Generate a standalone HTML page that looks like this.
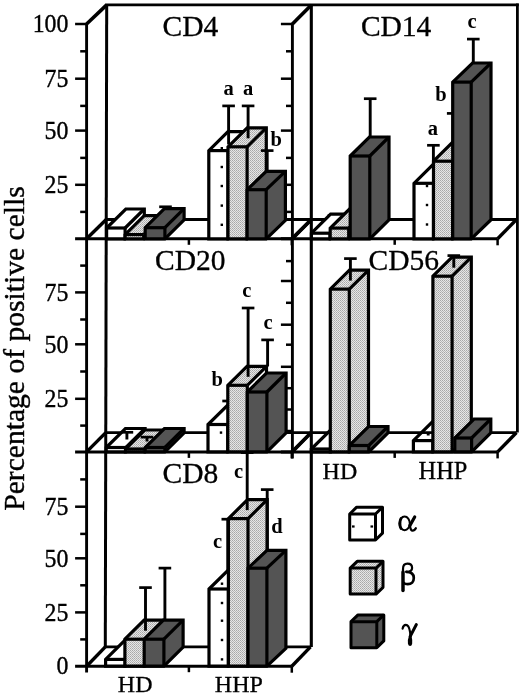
<!DOCTYPE html>
<html><head><meta charset="utf-8"><style>
html,body{margin:0;padding:0;background:#fff;}
svg{display:block;filter:grayscale(1);}
text{font-family:"Liberation Serif", serif;fill:#000;}
</style></head><body>
<svg width="520" height="694" viewBox="0 0 520 694">
<defs>
<pattern id="stip" width="2" height="2" patternUnits="userSpaceOnUse">
<rect width="2" height="2" fill="#e6e6e6"/>
<rect x="0" y="0" width="1" height="1" fill="#a8a8a8"/>
<rect x="1" y="1" width="1" height="1" fill="#b8b8b8"/>
</pattern>
</defs>
<rect width="520" height="694" fill="#fff"/>
<line x1="75.10" y1="238.80" x2="291.80" y2="238.80" stroke="#000" stroke-width="3.0" stroke-linecap="butt"/>
<line x1="106.23" y1="219.50" x2="311.43" y2="219.50" stroke="#000" stroke-width="2.9" stroke-linecap="butt"/>
<line x1="86.60" y1="238.80" x2="106.23" y2="219.50" stroke="#000" stroke-width="3.4" stroke-linecap="butt"/>
<line x1="291.80" y1="238.80" x2="311.43" y2="219.50" stroke="#000" stroke-width="3.4" stroke-linecap="butt"/>
<line x1="188.90" y1="238.80" x2="188.90" y2="244.80" stroke="#000" stroke-width="2.5" stroke-linecap="butt"/>
<line x1="291.80" y1="238.80" x2="291.80" y2="245.30" stroke="#000" stroke-width="2.5" stroke-linecap="butt"/>
<line x1="280.90" y1="238.80" x2="497.60" y2="238.80" stroke="#000" stroke-width="3.0" stroke-linecap="butt"/>
<line x1="311.30" y1="219.50" x2="516.50" y2="219.50" stroke="#000" stroke-width="2.9" stroke-linecap="butt"/>
<line x1="292.40" y1="238.80" x2="311.30" y2="219.50" stroke="#000" stroke-width="3.4" stroke-linecap="butt"/>
<line x1="497.60" y1="238.80" x2="516.50" y2="219.50" stroke="#000" stroke-width="3.4" stroke-linecap="butt"/>
<line x1="394.70" y1="238.80" x2="394.70" y2="244.80" stroke="#000" stroke-width="2.5" stroke-linecap="butt"/>
<line x1="497.60" y1="238.80" x2="497.60" y2="245.30" stroke="#000" stroke-width="2.5" stroke-linecap="butt"/>
<line x1="75.10" y1="451.90" x2="291.80" y2="451.90" stroke="#000" stroke-width="3.0" stroke-linecap="butt"/>
<line x1="105.77" y1="432.60" x2="310.97" y2="432.60" stroke="#000" stroke-width="2.9" stroke-linecap="butt"/>
<line x1="86.60" y1="451.90" x2="105.77" y2="432.60" stroke="#000" stroke-width="3.4" stroke-linecap="butt"/>
<line x1="291.80" y1="451.90" x2="310.97" y2="432.60" stroke="#000" stroke-width="3.4" stroke-linecap="butt"/>
<line x1="188.90" y1="451.90" x2="188.90" y2="457.90" stroke="#000" stroke-width="2.5" stroke-linecap="butt"/>
<line x1="291.80" y1="451.90" x2="291.80" y2="458.40" stroke="#000" stroke-width="2.5" stroke-linecap="butt"/>
<line x1="280.90" y1="451.90" x2="497.60" y2="451.90" stroke="#000" stroke-width="3.0" stroke-linecap="butt"/>
<line x1="311.30" y1="432.60" x2="516.50" y2="432.60" stroke="#000" stroke-width="2.9" stroke-linecap="butt"/>
<line x1="292.40" y1="451.90" x2="311.30" y2="432.60" stroke="#000" stroke-width="3.4" stroke-linecap="butt"/>
<line x1="497.60" y1="451.90" x2="516.50" y2="432.60" stroke="#000" stroke-width="3.4" stroke-linecap="butt"/>
<line x1="394.70" y1="451.90" x2="394.70" y2="457.90" stroke="#000" stroke-width="2.5" stroke-linecap="butt"/>
<line x1="497.60" y1="451.90" x2="497.60" y2="458.40" stroke="#000" stroke-width="2.5" stroke-linecap="butt"/>
<line x1="75.10" y1="666.20" x2="291.80" y2="666.20" stroke="#000" stroke-width="3.0" stroke-linecap="butt"/>
<line x1="105.30" y1="646.90" x2="310.50" y2="646.90" stroke="#000" stroke-width="2.9" stroke-linecap="butt"/>
<line x1="86.60" y1="666.20" x2="105.30" y2="646.90" stroke="#000" stroke-width="3.4" stroke-linecap="butt"/>
<line x1="291.80" y1="666.20" x2="310.50" y2="646.90" stroke="#000" stroke-width="3.4" stroke-linecap="butt"/>
<line x1="188.90" y1="666.20" x2="188.90" y2="672.20" stroke="#000" stroke-width="2.5" stroke-linecap="butt"/>
<line x1="291.80" y1="666.20" x2="291.80" y2="672.70" stroke="#000" stroke-width="2.5" stroke-linecap="butt"/>
<line x1="105.40" y1="4.90" x2="518.80" y2="4.90" stroke="#000" stroke-width="2.9" stroke-linecap="butt"/>
<line x1="86.60" y1="24.00" x2="106.70" y2="4.90" stroke="#000" stroke-width="3.6" stroke-linecap="butt"/>
<line x1="292.40" y1="24.00" x2="311.30" y2="4.90" stroke="#000" stroke-width="3.6" stroke-linecap="butt"/>
<line x1="86.60" y1="23.00" x2="86.60" y2="672.50" stroke="#000" stroke-width="2.9" stroke-linecap="butt"/>
<line x1="106.70" y1="4.90" x2="105.30" y2="646.90" stroke="#000" stroke-width="3.0" stroke-linecap="butt"/>
<line x1="292.40" y1="23.00" x2="292.40" y2="458.40" stroke="#000" stroke-width="2.9" stroke-linecap="butt"/>
<line x1="311.30" y1="4.90" x2="311.30" y2="646.90" stroke="#000" stroke-width="3.1" stroke-linecap="butt"/>
<line x1="517.40" y1="3.50" x2="517.40" y2="432.60" stroke="#000" stroke-width="2.8" stroke-linecap="butt"/>
<line x1="75.10" y1="24.00" x2="86.60" y2="24.00" stroke="#000" stroke-width="2.5" stroke-linecap="butt"/>
<line x1="80.20" y1="51.30" x2="86.60" y2="51.30" stroke="#000" stroke-width="2.5" stroke-linecap="butt"/>
<line x1="75.10" y1="78.70" x2="86.60" y2="78.70" stroke="#000" stroke-width="2.5" stroke-linecap="butt"/>
<line x1="80.20" y1="105.90" x2="86.60" y2="105.90" stroke="#000" stroke-width="2.5" stroke-linecap="butt"/>
<line x1="75.10" y1="130.60" x2="86.60" y2="130.60" stroke="#000" stroke-width="2.5" stroke-linecap="butt"/>
<line x1="80.20" y1="157.90" x2="86.60" y2="157.90" stroke="#000" stroke-width="2.5" stroke-linecap="butt"/>
<line x1="75.10" y1="184.80" x2="86.60" y2="184.80" stroke="#000" stroke-width="2.5" stroke-linecap="butt"/>
<line x1="80.20" y1="211.90" x2="86.60" y2="211.90" stroke="#000" stroke-width="2.5" stroke-linecap="butt"/>
<line x1="280.90" y1="24.00" x2="292.40" y2="24.00" stroke="#000" stroke-width="2.5" stroke-linecap="butt"/>
<line x1="286.00" y1="51.30" x2="292.40" y2="51.30" stroke="#000" stroke-width="2.5" stroke-linecap="butt"/>
<line x1="280.90" y1="78.70" x2="292.40" y2="78.70" stroke="#000" stroke-width="2.5" stroke-linecap="butt"/>
<line x1="286.00" y1="105.90" x2="292.40" y2="105.90" stroke="#000" stroke-width="2.5" stroke-linecap="butt"/>
<line x1="280.90" y1="130.60" x2="292.40" y2="130.60" stroke="#000" stroke-width="2.5" stroke-linecap="butt"/>
<line x1="286.00" y1="157.90" x2="292.40" y2="157.90" stroke="#000" stroke-width="2.5" stroke-linecap="butt"/>
<line x1="280.90" y1="184.80" x2="292.40" y2="184.80" stroke="#000" stroke-width="2.5" stroke-linecap="butt"/>
<line x1="286.00" y1="211.90" x2="292.40" y2="211.90" stroke="#000" stroke-width="2.5" stroke-linecap="butt"/>
<line x1="80.20" y1="265.60" x2="86.60" y2="265.60" stroke="#000" stroke-width="2.5" stroke-linecap="butt"/>
<line x1="75.10" y1="292.40" x2="86.60" y2="292.40" stroke="#000" stroke-width="2.5" stroke-linecap="butt"/>
<line x1="80.20" y1="319.50" x2="86.60" y2="319.50" stroke="#000" stroke-width="2.5" stroke-linecap="butt"/>
<line x1="75.10" y1="344.30" x2="86.60" y2="344.30" stroke="#000" stroke-width="2.5" stroke-linecap="butt"/>
<line x1="80.20" y1="371.50" x2="86.60" y2="371.50" stroke="#000" stroke-width="2.5" stroke-linecap="butt"/>
<line x1="75.10" y1="398.80" x2="86.60" y2="398.80" stroke="#000" stroke-width="2.5" stroke-linecap="butt"/>
<line x1="80.20" y1="425.60" x2="86.60" y2="425.60" stroke="#000" stroke-width="2.5" stroke-linecap="butt"/>
<line x1="80.20" y1="479.40" x2="86.60" y2="479.40" stroke="#000" stroke-width="2.5" stroke-linecap="butt"/>
<line x1="75.10" y1="506.70" x2="86.60" y2="506.70" stroke="#000" stroke-width="2.5" stroke-linecap="butt"/>
<line x1="80.20" y1="533.90" x2="86.60" y2="533.90" stroke="#000" stroke-width="2.5" stroke-linecap="butt"/>
<line x1="75.10" y1="558.30" x2="86.60" y2="558.30" stroke="#000" stroke-width="2.5" stroke-linecap="butt"/>
<line x1="80.20" y1="585.30" x2="86.60" y2="585.30" stroke="#000" stroke-width="2.5" stroke-linecap="butt"/>
<line x1="75.10" y1="612.40" x2="86.60" y2="612.40" stroke="#000" stroke-width="2.5" stroke-linecap="butt"/>
<line x1="80.20" y1="639.40" x2="86.60" y2="639.40" stroke="#000" stroke-width="2.5" stroke-linecap="butt"/>
<line x1="286.00" y1="261.10" x2="292.40" y2="261.10" stroke="#000" stroke-width="2.5" stroke-linecap="butt"/>
<line x1="280.90" y1="281.00" x2="292.40" y2="281.00" stroke="#000" stroke-width="2.5" stroke-linecap="butt"/>
<line x1="286.00" y1="302.80" x2="292.40" y2="302.80" stroke="#000" stroke-width="2.5" stroke-linecap="butt"/>
<line x1="280.90" y1="324.70" x2="292.40" y2="324.70" stroke="#000" stroke-width="2.5" stroke-linecap="butt"/>
<line x1="286.00" y1="344.70" x2="292.40" y2="344.70" stroke="#000" stroke-width="2.5" stroke-linecap="butt"/>
<line x1="280.90" y1="366.80" x2="292.40" y2="366.80" stroke="#000" stroke-width="2.5" stroke-linecap="butt"/>
<line x1="286.00" y1="388.20" x2="292.40" y2="388.20" stroke="#000" stroke-width="2.5" stroke-linecap="butt"/>
<line x1="280.90" y1="409.50" x2="292.40" y2="409.50" stroke="#000" stroke-width="2.5" stroke-linecap="butt"/>
<line x1="286.00" y1="431.00" x2="292.40" y2="431.00" stroke="#000" stroke-width="2.5" stroke-linecap="butt"/>
<line x1="125.80" y1="214.40" x2="125.80" y2="209.50" stroke="#000" stroke-width="2.9" stroke-linecap="butt"/>
<line x1="119.50" y1="214.40" x2="132.10" y2="214.40" stroke="#000" stroke-width="2.7" stroke-linecap="butt"/>
<polygon points="125.10,228.00 144.30,209.00 144.30,219.80 125.10,238.80" fill="#fff"/>
<polygon points="106.60,228.00 125.80,209.00 144.30,209.00 125.10,228.00" fill="#fff"/>
<polygon points="106.60,228.00 125.10,228.00 125.10,238.80 106.60,238.80" fill="#fff"/>
<polygon points="106.60,238.80 106.60,228.00 125.80,209.00 144.30,209.00 144.30,219.80 125.10,238.80" fill="none" stroke="#000" stroke-width="3.2" stroke-linejoin="miter"/>
<line x1="106.60" y1="228.00" x2="125.10" y2="228.00" stroke="#000" stroke-width="3.2" stroke-linecap="butt"/>
<line x1="125.10" y1="228.00" x2="125.10" y2="238.80" stroke="#000" stroke-width="3.2" stroke-linecap="butt"/>
<line x1="125.10" y1="228.00" x2="144.30" y2="209.00" stroke="#000" stroke-width="3.2" stroke-linecap="butt"/>
<polygon points="143.70,234.60 162.90,215.60 162.90,219.80 143.70,238.80" fill="url(#stip)"/>
<polygon points="125.10,234.60 144.30,215.60 162.90,215.60 143.70,234.60" fill="url(#stip)"/>
<polygon points="125.10,234.60 143.70,234.60 143.70,238.80 125.10,238.80" fill="url(#stip)"/>
<polygon points="125.10,238.80 125.10,234.60 144.30,215.60 162.90,215.60 162.90,219.80 143.70,238.80" fill="none" stroke="#000" stroke-width="3.2" stroke-linejoin="miter"/>
<line x1="125.10" y1="234.60" x2="143.70" y2="234.60" stroke="#000" stroke-width="3.2" stroke-linecap="butt"/>
<line x1="143.70" y1="234.60" x2="143.70" y2="238.80" stroke="#000" stroke-width="3.2" stroke-linecap="butt"/>
<line x1="143.70" y1="234.60" x2="162.90" y2="215.60" stroke="#000" stroke-width="3.2" stroke-linecap="butt"/>
<line x1="165.50" y1="206.80" x2="165.50" y2="209.20" stroke="#000" stroke-width="2.9" stroke-linecap="butt"/>
<line x1="159.20" y1="206.80" x2="171.80" y2="206.80" stroke="#000" stroke-width="2.7" stroke-linecap="butt"/>
<polygon points="164.90,227.70 184.10,208.70 184.10,219.80 164.90,238.80" fill="#545454"/>
<polygon points="145.20,227.70 164.40,208.70 184.10,208.70 164.90,227.70" fill="#545454"/>
<polygon points="145.20,227.70 164.90,227.70 164.90,238.80 145.20,238.80" fill="#545454"/>
<polygon points="145.20,238.80 145.20,227.70 164.40,208.70 184.10,208.70 184.10,219.80 164.90,238.80" fill="none" stroke="#000" stroke-width="3.2" stroke-linejoin="miter"/>
<line x1="145.20" y1="227.70" x2="164.90" y2="227.70" stroke="#000" stroke-width="3.2" stroke-linecap="butt"/>
<line x1="164.90" y1="227.70" x2="164.90" y2="238.80" stroke="#000" stroke-width="3.2" stroke-linecap="butt"/>
<line x1="164.90" y1="227.70" x2="184.10" y2="208.70" stroke="#000" stroke-width="3.2" stroke-linecap="butt"/>
<polygon points="228.00,150.60 247.20,131.60 247.20,219.80 228.00,238.80" fill="#fff"/>
<polygon points="208.80,150.60 228.00,131.60 247.20,131.60 228.00,150.60" fill="#fff"/>
<polygon points="208.80,150.60 228.00,150.60 228.00,238.80 208.80,238.80" fill="#fff"/>
<polygon points="208.80,238.80 208.80,150.60 228.00,131.60 247.20,131.60 247.20,219.80 228.00,238.80" fill="none" stroke="#000" stroke-width="3.2" stroke-linejoin="miter"/>
<line x1="208.80" y1="150.60" x2="228.00" y2="150.60" stroke="#000" stroke-width="3.2" stroke-linecap="butt"/>
<line x1="228.00" y1="150.60" x2="228.00" y2="238.80" stroke="#000" stroke-width="3.2" stroke-linecap="butt"/>
<line x1="228.00" y1="150.60" x2="247.20" y2="131.60" stroke="#000" stroke-width="3.2" stroke-linecap="butt"/>
<rect x="220.60" y="147.00" width="2.4" height="2.4" fill="#000"/>
<rect x="220.60" y="165.80" width="2.4" height="2.4" fill="#000"/>
<rect x="220.60" y="184.80" width="2.4" height="2.4" fill="#000"/>
<rect x="220.60" y="204.40" width="2.4" height="2.4" fill="#000"/>
<rect x="220.60" y="223.60" width="2.4" height="2.4" fill="#000"/>
<line x1="228.60" y1="105.90" x2="228.60" y2="144.50" stroke="#000" stroke-width="2.9" stroke-linecap="butt"/>
<line x1="222.30" y1="105.90" x2="234.90" y2="105.90" stroke="#000" stroke-width="2.7" stroke-linecap="butt"/>
<polygon points="247.10,146.80 266.30,127.80 266.30,219.80 247.10,238.80" fill="url(#stip)"/>
<polygon points="228.00,146.80 247.20,127.80 266.30,127.80 247.10,146.80" fill="url(#stip)"/>
<polygon points="228.00,146.80 247.10,146.80 247.10,238.80 228.00,238.80" fill="url(#stip)"/>
<polygon points="228.00,238.80 228.00,146.80 247.20,127.80 266.30,127.80 266.30,219.80 247.10,238.80" fill="none" stroke="#000" stroke-width="3.2" stroke-linejoin="miter"/>
<line x1="228.00" y1="146.80" x2="247.10" y2="146.80" stroke="#000" stroke-width="3.2" stroke-linecap="butt"/>
<line x1="247.10" y1="146.80" x2="247.10" y2="238.80" stroke="#000" stroke-width="3.2" stroke-linecap="butt"/>
<line x1="247.10" y1="146.80" x2="266.30" y2="127.80" stroke="#000" stroke-width="3.2" stroke-linecap="butt"/>
<line x1="248.10" y1="105.90" x2="248.10" y2="138.30" stroke="#000" stroke-width="2.9" stroke-linecap="butt"/>
<line x1="241.80" y1="105.90" x2="254.40" y2="105.90" stroke="#000" stroke-width="2.7" stroke-linecap="butt"/>
<line x1="267.20" y1="150.60" x2="267.20" y2="171.80" stroke="#000" stroke-width="2.9" stroke-linecap="butt"/>
<line x1="260.90" y1="150.60" x2="273.50" y2="150.60" stroke="#000" stroke-width="2.7" stroke-linecap="butt"/>
<polygon points="266.20,189.70 285.40,171.30 285.40,220.40 266.20,238.80" fill="#545454"/>
<polygon points="247.10,189.70 266.30,171.30 285.40,171.30 266.20,189.70" fill="#545454"/>
<polygon points="247.10,189.70 266.20,189.70 266.20,238.80 247.10,238.80" fill="#545454"/>
<polygon points="247.10,238.80 247.10,189.70 266.30,171.30 285.40,171.30 285.40,220.40 266.20,238.80" fill="none" stroke="#000" stroke-width="3.2" stroke-linejoin="miter"/>
<line x1="247.10" y1="189.70" x2="266.20" y2="189.70" stroke="#000" stroke-width="3.2" stroke-linecap="butt"/>
<line x1="266.20" y1="189.70" x2="266.20" y2="238.80" stroke="#000" stroke-width="3.2" stroke-linecap="butt"/>
<line x1="266.20" y1="189.70" x2="285.40" y2="171.30" stroke="#000" stroke-width="3.2" stroke-linecap="butt"/>
<line x1="334.00" y1="215.50" x2="334.00" y2="214.70" stroke="#000" stroke-width="2.9" stroke-linecap="butt"/>
<line x1="327.70" y1="215.50" x2="340.30" y2="215.50" stroke="#000" stroke-width="2.7" stroke-linecap="butt"/>
<polygon points="330.00,233.20 349.20,214.20 349.20,219.80 330.00,238.80" fill="#fff"/>
<polygon points="311.40,233.20 330.60,214.20 349.20,214.20 330.00,233.20" fill="#fff"/>
<polygon points="311.40,233.20 330.00,233.20 330.00,238.80 311.40,238.80" fill="#fff"/>
<polygon points="311.40,238.80 311.40,233.20 330.60,214.20 349.20,214.20 349.20,219.80 330.00,238.80" fill="none" stroke="#000" stroke-width="3.2" stroke-linejoin="miter"/>
<line x1="311.40" y1="233.20" x2="330.00" y2="233.20" stroke="#000" stroke-width="3.2" stroke-linecap="butt"/>
<line x1="330.00" y1="233.20" x2="330.00" y2="238.80" stroke="#000" stroke-width="3.2" stroke-linecap="butt"/>
<line x1="330.00" y1="233.20" x2="349.20" y2="214.20" stroke="#000" stroke-width="3.2" stroke-linecap="butt"/>
<polygon points="348.70,228.10 367.90,209.10 367.90,219.80 348.70,238.80" fill="url(#stip)"/>
<polygon points="330.20,228.10 349.40,209.10 367.90,209.10 348.70,228.10" fill="url(#stip)"/>
<polygon points="330.20,228.10 348.70,228.10 348.70,238.80 330.20,238.80" fill="url(#stip)"/>
<polygon points="330.20,238.80 330.20,228.10 349.40,209.10 367.90,209.10 367.90,219.80 348.70,238.80" fill="none" stroke="#000" stroke-width="3.2" stroke-linejoin="miter"/>
<line x1="330.20" y1="228.10" x2="348.70" y2="228.10" stroke="#000" stroke-width="3.2" stroke-linecap="butt"/>
<line x1="348.70" y1="228.10" x2="348.70" y2="238.80" stroke="#000" stroke-width="3.2" stroke-linecap="butt"/>
<line x1="348.70" y1="228.10" x2="367.90" y2="209.10" stroke="#000" stroke-width="3.2" stroke-linecap="butt"/>
<line x1="370.20" y1="98.70" x2="370.20" y2="137.50" stroke="#000" stroke-width="2.9" stroke-linecap="butt"/>
<line x1="363.90" y1="98.70" x2="376.50" y2="98.70" stroke="#000" stroke-width="2.7" stroke-linecap="butt"/>
<polygon points="369.80,156.00 389.00,137.00 389.00,219.80 369.80,238.80" fill="#545454"/>
<polygon points="350.20,156.00 369.40,137.00 389.00,137.00 369.80,156.00" fill="#545454"/>
<polygon points="350.20,156.00 369.80,156.00 369.80,238.80 350.20,238.80" fill="#545454"/>
<polygon points="350.20,238.80 350.20,156.00 369.40,137.00 389.00,137.00 389.00,219.80 369.80,238.80" fill="none" stroke="#000" stroke-width="3.2" stroke-linejoin="miter"/>
<line x1="350.20" y1="156.00" x2="369.80" y2="156.00" stroke="#000" stroke-width="3.2" stroke-linecap="butt"/>
<line x1="369.80" y1="156.00" x2="369.80" y2="238.80" stroke="#000" stroke-width="3.2" stroke-linecap="butt"/>
<line x1="369.80" y1="156.00" x2="389.00" y2="137.00" stroke="#000" stroke-width="3.2" stroke-linecap="butt"/>
<line x1="433.40" y1="145.30" x2="433.40" y2="164.80" stroke="#000" stroke-width="2.9" stroke-linecap="butt"/>
<line x1="427.10" y1="145.30" x2="439.70" y2="145.30" stroke="#000" stroke-width="2.7" stroke-linecap="butt"/>
<polygon points="433.50,183.30 452.70,164.30 452.70,219.80 433.50,238.80" fill="#fff"/>
<polygon points="414.00,183.30 433.20,164.30 452.70,164.30 433.50,183.30" fill="#fff"/>
<polygon points="414.00,183.30 433.50,183.30 433.50,238.80 414.00,238.80" fill="#fff"/>
<polygon points="414.00,238.80 414.00,183.30 433.20,164.30 452.70,164.30 452.70,219.80 433.50,238.80" fill="none" stroke="#000" stroke-width="3.2" stroke-linejoin="miter"/>
<line x1="414.00" y1="183.30" x2="433.50" y2="183.30" stroke="#000" stroke-width="3.2" stroke-linecap="butt"/>
<line x1="433.50" y1="183.30" x2="433.50" y2="238.80" stroke="#000" stroke-width="3.2" stroke-linecap="butt"/>
<line x1="433.50" y1="183.30" x2="452.70" y2="164.30" stroke="#000" stroke-width="3.2" stroke-linecap="butt"/>
<rect x="425.80" y="184.80" width="2.4" height="2.4" fill="#000"/>
<rect x="425.80" y="203.80" width="2.4" height="2.4" fill="#000"/>
<rect x="425.80" y="223.30" width="2.4" height="2.4" fill="#000"/>
<polygon points="452.70,161.20 471.90,142.20 471.90,219.80 452.70,238.80" fill="url(#stip)"/>
<polygon points="433.50,161.20 452.70,142.20 471.90,142.20 452.70,161.20" fill="url(#stip)"/>
<polygon points="433.50,161.20 452.70,161.20 452.70,238.80 433.50,238.80" fill="url(#stip)"/>
<polygon points="433.50,238.80 433.50,161.20 452.70,142.20 471.90,142.20 471.90,219.80 452.70,238.80" fill="none" stroke="#000" stroke-width="3.2" stroke-linejoin="miter"/>
<line x1="433.50" y1="161.20" x2="452.70" y2="161.20" stroke="#000" stroke-width="3.2" stroke-linecap="butt"/>
<line x1="452.70" y1="161.20" x2="452.70" y2="238.80" stroke="#000" stroke-width="3.2" stroke-linecap="butt"/>
<line x1="452.70" y1="161.20" x2="471.90" y2="142.20" stroke="#000" stroke-width="3.2" stroke-linecap="butt"/>
<line x1="453.20" y1="113.40" x2="453.20" y2="152.70" stroke="#000" stroke-width="2.9" stroke-linecap="butt"/>
<line x1="446.90" y1="113.40" x2="459.50" y2="113.40" stroke="#000" stroke-width="2.7" stroke-linecap="butt"/>
<line x1="473.30" y1="39.10" x2="473.30" y2="63.50" stroke="#000" stroke-width="2.9" stroke-linecap="butt"/>
<line x1="467.00" y1="39.10" x2="479.60" y2="39.10" stroke="#000" stroke-width="2.7" stroke-linecap="butt"/>
<polygon points="471.20,82.10 491.00,63.00 491.00,219.70 471.20,238.80" fill="#545454"/>
<polygon points="452.70,82.10 472.50,63.00 491.00,63.00 471.20,82.10" fill="#545454"/>
<polygon points="452.70,82.10 471.20,82.10 471.20,238.80 452.70,238.80" fill="#545454"/>
<polygon points="452.70,238.80 452.70,82.10 472.50,63.00 491.00,63.00 491.00,219.70 471.20,238.80" fill="none" stroke="#000" stroke-width="3.2" stroke-linejoin="miter"/>
<line x1="452.70" y1="82.10" x2="471.20" y2="82.10" stroke="#000" stroke-width="3.2" stroke-linecap="butt"/>
<line x1="471.20" y1="82.10" x2="471.20" y2="238.80" stroke="#000" stroke-width="3.2" stroke-linecap="butt"/>
<line x1="471.20" y1="82.10" x2="491.00" y2="63.00" stroke="#000" stroke-width="3.2" stroke-linecap="butt"/>
<polygon points="125.90,447.50 145.10,428.50 145.10,432.90 125.90,451.90" fill="#fff"/>
<polygon points="106.20,447.50 125.40,428.50 145.10,428.50 125.90,447.50" fill="#fff"/>
<polygon points="106.20,447.50 125.90,447.50 125.90,451.90 106.20,451.90" fill="#fff"/>
<polygon points="106.20,451.90 106.20,447.50 125.40,428.50 145.10,428.50 145.10,432.90 125.90,451.90" fill="none" stroke="#000" stroke-width="3.2" stroke-linejoin="miter"/>
<line x1="106.20" y1="447.50" x2="125.90" y2="447.50" stroke="#000" stroke-width="3.2" stroke-linecap="butt"/>
<line x1="125.90" y1="447.50" x2="125.90" y2="451.90" stroke="#000" stroke-width="3.2" stroke-linecap="butt"/>
<line x1="125.90" y1="447.50" x2="145.10" y2="428.50" stroke="#000" stroke-width="3.2" stroke-linecap="butt"/>
<line x1="126.90" y1="432.30" x2="126.90" y2="439.50" stroke="#000" stroke-width="2.9" stroke-linecap="butt"/>
<line x1="120.60" y1="432.30" x2="133.20" y2="432.30" stroke="#000" stroke-width="2.7" stroke-linecap="butt"/>
<polygon points="145.20,449.00 164.40,430.00 164.40,432.90 145.20,451.90" fill="url(#stip)"/>
<polygon points="125.50,449.00 144.70,430.00 164.40,430.00 145.20,449.00" fill="url(#stip)"/>
<polygon points="125.50,449.00 145.20,449.00 145.20,451.90 125.50,451.90" fill="url(#stip)"/>
<polygon points="125.50,451.90 125.50,449.00 144.70,430.00 164.40,430.00 164.40,432.90 145.20,451.90" fill="none" stroke="#000" stroke-width="3.2" stroke-linejoin="miter"/>
<line x1="125.50" y1="449.00" x2="145.20" y2="449.00" stroke="#000" stroke-width="3.2" stroke-linecap="butt"/>
<line x1="145.20" y1="449.00" x2="145.20" y2="451.90" stroke="#000" stroke-width="3.2" stroke-linecap="butt"/>
<line x1="145.20" y1="449.00" x2="164.40" y2="430.00" stroke="#000" stroke-width="3.2" stroke-linecap="butt"/>
<line x1="147.00" y1="437.10" x2="147.00" y2="441.50" stroke="#000" stroke-width="2.9" stroke-linecap="butt"/>
<line x1="140.70" y1="437.10" x2="153.30" y2="437.10" stroke="#000" stroke-width="2.7" stroke-linecap="butt"/>
<line x1="166.00" y1="430.50" x2="166.00" y2="429.00" stroke="#000" stroke-width="2.9" stroke-linecap="butt"/>
<line x1="159.70" y1="430.50" x2="172.30" y2="430.50" stroke="#000" stroke-width="2.7" stroke-linecap="butt"/>
<polygon points="164.90,447.50 184.10,428.50 184.10,432.90 164.90,451.90" fill="#545454"/>
<polygon points="145.20,447.50 164.40,428.50 184.10,428.50 164.90,447.50" fill="#545454"/>
<polygon points="145.20,447.50 164.90,447.50 164.90,451.90 145.20,451.90" fill="#545454"/>
<polygon points="145.20,451.90 145.20,447.50 164.40,428.50 184.10,428.50 184.10,432.90 164.90,451.90" fill="none" stroke="#000" stroke-width="3.2" stroke-linejoin="miter"/>
<line x1="145.20" y1="447.50" x2="164.90" y2="447.50" stroke="#000" stroke-width="3.2" stroke-linecap="butt"/>
<line x1="164.90" y1="447.50" x2="164.90" y2="451.90" stroke="#000" stroke-width="3.2" stroke-linecap="butt"/>
<line x1="164.90" y1="447.50" x2="184.10" y2="428.50" stroke="#000" stroke-width="3.2" stroke-linecap="butt"/>
<line x1="228.60" y1="401.00" x2="228.60" y2="406.00" stroke="#000" stroke-width="2.9" stroke-linecap="butt"/>
<line x1="222.30" y1="401.00" x2="234.90" y2="401.00" stroke="#000" stroke-width="2.7" stroke-linecap="butt"/>
<polygon points="227.80,424.50 247.00,405.50 247.00,432.90 227.80,451.90" fill="#fff"/>
<polygon points="208.00,424.50 227.20,405.50 247.00,405.50 227.80,424.50" fill="#fff"/>
<polygon points="208.00,424.50 227.80,424.50 227.80,451.90 208.00,451.90" fill="#fff"/>
<polygon points="208.00,451.90 208.00,424.50 227.20,405.50 247.00,405.50 247.00,432.90 227.80,451.90" fill="none" stroke="#000" stroke-width="3.2" stroke-linejoin="miter"/>
<line x1="208.00" y1="424.50" x2="227.80" y2="424.50" stroke="#000" stroke-width="3.2" stroke-linecap="butt"/>
<line x1="227.80" y1="424.50" x2="227.80" y2="451.90" stroke="#000" stroke-width="3.2" stroke-linecap="butt"/>
<line x1="227.80" y1="424.50" x2="247.00" y2="405.50" stroke="#000" stroke-width="3.2" stroke-linecap="butt"/>
<rect x="219.80" y="431.40" width="2.4" height="2.4" fill="#000"/>
<polygon points="247.30,385.30 266.50,366.30 266.50,432.90 247.30,451.90" fill="#fff"/>
<polygon points="227.80,385.30 247.00,366.30 266.50,366.30 247.30,385.30" fill="url(#stip)"/>
<polygon points="227.80,385.30 247.30,385.30 247.30,451.90 227.80,451.90" fill="url(#stip)"/>
<polygon points="227.80,451.90 227.80,385.30 247.00,366.30 266.50,366.30 266.50,432.90 247.30,451.90" fill="none" stroke="#000" stroke-width="3.2" stroke-linejoin="miter"/>
<line x1="227.80" y1="385.30" x2="247.30" y2="385.30" stroke="#000" stroke-width="3.2" stroke-linecap="butt"/>
<line x1="247.30" y1="385.30" x2="247.30" y2="451.90" stroke="#000" stroke-width="3.2" stroke-linecap="butt"/>
<line x1="247.30" y1="385.30" x2="266.50" y2="366.30" stroke="#000" stroke-width="3.2" stroke-linecap="butt"/>
<line x1="248.10" y1="308.00" x2="248.10" y2="376.80" stroke="#000" stroke-width="2.9" stroke-linecap="butt"/>
<line x1="241.80" y1="308.00" x2="254.40" y2="308.00" stroke="#000" stroke-width="2.7" stroke-linecap="butt"/>
<polygon points="266.90,392.00 286.10,373.00 286.10,432.90 266.90,451.90" fill="#545454"/>
<polygon points="247.30,392.00 266.50,373.00 286.10,373.00 266.90,392.00" fill="#545454"/>
<polygon points="247.30,392.00 266.90,392.00 266.90,451.90 247.30,451.90" fill="#545454"/>
<polygon points="247.30,451.90 247.30,392.00 266.50,373.00 286.10,373.00 286.10,432.90 266.90,451.90" fill="none" stroke="#000" stroke-width="3.2" stroke-linejoin="miter"/>
<line x1="247.30" y1="392.00" x2="266.90" y2="392.00" stroke="#000" stroke-width="3.2" stroke-linecap="butt"/>
<line x1="266.90" y1="392.00" x2="266.90" y2="451.90" stroke="#000" stroke-width="3.2" stroke-linecap="butt"/>
<line x1="266.90" y1="392.00" x2="286.10" y2="373.00" stroke="#000" stroke-width="3.2" stroke-linecap="butt"/>
<line x1="267.60" y1="339.90" x2="267.60" y2="366.50" stroke="#000" stroke-width="2.9" stroke-linecap="butt"/>
<line x1="261.30" y1="339.90" x2="273.90" y2="339.90" stroke="#000" stroke-width="2.7" stroke-linecap="butt"/>
<polygon points="331.00,449.00 350.20,430.00 350.20,432.90 331.00,451.90" fill="#fff"/>
<polygon points="311.30,449.00 330.50,430.00 350.20,430.00 331.00,449.00" fill="#fff"/>
<polygon points="311.30,449.00 331.00,449.00 331.00,451.90 311.30,451.90" fill="#fff"/>
<polygon points="311.30,451.90 311.30,449.00 330.50,430.00 350.20,430.00 350.20,432.90 331.00,451.90" fill="none" stroke="#000" stroke-width="3.2" stroke-linejoin="miter"/>
<line x1="311.30" y1="449.00" x2="331.00" y2="449.00" stroke="#000" stroke-width="3.2" stroke-linecap="butt"/>
<line x1="331.00" y1="449.00" x2="331.00" y2="451.90" stroke="#000" stroke-width="3.2" stroke-linecap="butt"/>
<line x1="331.00" y1="449.00" x2="350.20" y2="430.00" stroke="#000" stroke-width="3.2" stroke-linecap="butt"/>
<polygon points="349.30,289.10 368.50,270.10 368.50,432.90 349.30,451.90" fill="url(#stip)"/>
<polygon points="330.30,289.10 349.50,270.10 368.50,270.10 349.30,289.10" fill="url(#stip)"/>
<polygon points="330.30,289.10 349.30,289.10 349.30,451.90 330.30,451.90" fill="url(#stip)"/>
<polygon points="330.30,451.90 330.30,289.10 349.50,270.10 368.50,270.10 368.50,432.90 349.30,451.90" fill="none" stroke="#000" stroke-width="3.2" stroke-linejoin="miter"/>
<line x1="330.30" y1="289.10" x2="349.30" y2="289.10" stroke="#000" stroke-width="3.2" stroke-linecap="butt"/>
<line x1="349.30" y1="289.10" x2="349.30" y2="451.90" stroke="#000" stroke-width="3.2" stroke-linecap="butt"/>
<line x1="349.30" y1="289.10" x2="368.50" y2="270.10" stroke="#000" stroke-width="3.2" stroke-linecap="butt"/>
<line x1="350.40" y1="258.60" x2="350.40" y2="280.60" stroke="#000" stroke-width="2.9" stroke-linecap="butt"/>
<line x1="344.10" y1="258.60" x2="356.70" y2="258.60" stroke="#000" stroke-width="2.7" stroke-linecap="butt"/>
<polygon points="368.80,445.50 388.00,426.50 388.00,432.90 368.80,451.90" fill="#545454"/>
<polygon points="349.30,445.50 368.50,426.50 388.00,426.50 368.80,445.50" fill="#545454"/>
<polygon points="349.30,445.50 368.80,445.50 368.80,451.90 349.30,451.90" fill="#545454"/>
<polygon points="349.30,451.90 349.30,445.50 368.50,426.50 388.00,426.50 388.00,432.90 368.80,451.90" fill="none" stroke="#000" stroke-width="3.2" stroke-linejoin="miter"/>
<line x1="349.30" y1="445.50" x2="368.80" y2="445.50" stroke="#000" stroke-width="3.2" stroke-linecap="butt"/>
<line x1="368.80" y1="445.50" x2="368.80" y2="451.90" stroke="#000" stroke-width="3.2" stroke-linecap="butt"/>
<line x1="368.80" y1="445.50" x2="388.00" y2="426.50" stroke="#000" stroke-width="3.2" stroke-linecap="butt"/>
<polygon points="432.90,440.60 452.10,421.60 452.10,432.90 432.90,451.90" fill="#fff"/>
<polygon points="413.40,440.60 432.60,421.60 452.10,421.60 432.90,440.60" fill="#fff"/>
<polygon points="413.40,440.60 432.90,440.60 432.90,451.90 413.40,451.90" fill="#fff"/>
<polygon points="413.40,451.90 413.40,440.60 432.60,421.60 452.10,421.60 452.10,432.90 432.90,451.90" fill="none" stroke="#000" stroke-width="3.2" stroke-linejoin="miter"/>
<line x1="413.40" y1="440.60" x2="432.90" y2="440.60" stroke="#000" stroke-width="3.2" stroke-linecap="butt"/>
<line x1="432.90" y1="440.60" x2="432.90" y2="451.90" stroke="#000" stroke-width="3.2" stroke-linecap="butt"/>
<line x1="432.90" y1="440.60" x2="452.10" y2="421.60" stroke="#000" stroke-width="3.2" stroke-linecap="butt"/>
<line x1="428.20" y1="432.60" x2="428.20" y2="435.50" stroke="#000" stroke-width="2.9" stroke-linecap="butt"/>
<line x1="421.90" y1="432.60" x2="434.50" y2="432.60" stroke="#000" stroke-width="2.7" stroke-linecap="butt"/>
<polygon points="452.10,276.20 471.30,257.20 471.30,432.90 452.10,451.90" fill="url(#stip)"/>
<polygon points="432.90,276.20 452.10,257.20 471.30,257.20 452.10,276.20" fill="url(#stip)"/>
<polygon points="432.90,276.20 452.10,276.20 452.10,451.90 432.90,451.90" fill="url(#stip)"/>
<polygon points="432.90,451.90 432.90,276.20 452.10,257.20 471.30,257.20 471.30,432.90 452.10,451.90" fill="none" stroke="#000" stroke-width="3.2" stroke-linejoin="miter"/>
<line x1="432.90" y1="276.20" x2="452.10" y2="276.20" stroke="#000" stroke-width="3.2" stroke-linecap="butt"/>
<line x1="452.10" y1="276.20" x2="452.10" y2="451.90" stroke="#000" stroke-width="3.2" stroke-linecap="butt"/>
<line x1="452.10" y1="276.20" x2="471.30" y2="257.20" stroke="#000" stroke-width="3.2" stroke-linecap="butt"/>
<line x1="453.80" y1="255.60" x2="453.80" y2="267.70" stroke="#000" stroke-width="2.9" stroke-linecap="butt"/>
<line x1="447.50" y1="255.60" x2="460.10" y2="255.60" stroke="#000" stroke-width="2.7" stroke-linecap="butt"/>
<polygon points="471.60,438.00 490.80,419.00 490.80,432.90 471.60,451.90" fill="#545454"/>
<polygon points="454.80,438.00 474.00,419.00 490.80,419.00 471.60,438.00" fill="#545454"/>
<polygon points="454.80,438.00 471.60,438.00 471.60,451.90 454.80,451.90" fill="#545454"/>
<polygon points="454.80,451.90 454.80,438.00 474.00,419.00 490.80,419.00 490.80,432.90 471.60,451.90" fill="none" stroke="#000" stroke-width="3.2" stroke-linejoin="miter"/>
<line x1="454.80" y1="438.00" x2="471.60" y2="438.00" stroke="#000" stroke-width="3.2" stroke-linecap="butt"/>
<line x1="471.60" y1="438.00" x2="471.60" y2="451.90" stroke="#000" stroke-width="3.2" stroke-linecap="butt"/>
<line x1="471.60" y1="438.00" x2="490.80" y2="419.00" stroke="#000" stroke-width="3.2" stroke-linecap="butt"/>
<polygon points="125.30,659.40 144.50,640.40 144.50,647.20 125.30,666.20" fill="#fff"/>
<polygon points="105.60,659.40 124.80,640.40 144.50,640.40 125.30,659.40" fill="#fff"/>
<polygon points="105.60,659.40 125.30,659.40 125.30,666.20 105.60,666.20" fill="#fff"/>
<polygon points="105.60,666.20 105.60,659.40 124.80,640.40 144.50,640.40 144.50,647.20 125.30,666.20" fill="none" stroke="#000" stroke-width="3.2" stroke-linejoin="miter"/>
<line x1="105.60" y1="659.40" x2="125.30" y2="659.40" stroke="#000" stroke-width="3.2" stroke-linecap="butt"/>
<line x1="125.30" y1="659.40" x2="125.30" y2="666.20" stroke="#000" stroke-width="3.2" stroke-linecap="butt"/>
<line x1="125.30" y1="659.40" x2="144.50" y2="640.40" stroke="#000" stroke-width="3.2" stroke-linecap="butt"/>
<polygon points="144.60,639.20 163.80,620.20 163.80,647.20 144.60,666.20" fill="url(#stip)"/>
<polygon points="124.90,639.20 144.10,620.20 163.80,620.20 144.60,639.20" fill="url(#stip)"/>
<polygon points="124.90,639.20 144.60,639.20 144.60,666.20 124.90,666.20" fill="url(#stip)"/>
<polygon points="124.90,666.20 124.90,639.20 144.10,620.20 163.80,620.20 163.80,647.20 144.60,666.20" fill="none" stroke="#000" stroke-width="3.2" stroke-linejoin="miter"/>
<line x1="124.90" y1="639.20" x2="144.60" y2="639.20" stroke="#000" stroke-width="3.2" stroke-linecap="butt"/>
<line x1="144.60" y1="639.20" x2="144.60" y2="666.20" stroke="#000" stroke-width="3.2" stroke-linecap="butt"/>
<line x1="144.60" y1="639.20" x2="163.80" y2="620.20" stroke="#000" stroke-width="3.2" stroke-linecap="butt"/>
<line x1="145.50" y1="587.60" x2="145.50" y2="630.70" stroke="#000" stroke-width="2.9" stroke-linecap="butt"/>
<line x1="139.20" y1="587.60" x2="151.80" y2="587.60" stroke="#000" stroke-width="2.7" stroke-linecap="butt"/>
<line x1="164.90" y1="568.10" x2="164.90" y2="620.70" stroke="#000" stroke-width="2.9" stroke-linecap="butt"/>
<line x1="158.60" y1="568.10" x2="171.20" y2="568.10" stroke="#000" stroke-width="2.7" stroke-linecap="butt"/>
<polygon points="163.90,639.20 183.10,620.20 183.10,647.20 163.90,666.20" fill="#545454"/>
<polygon points="144.20,639.20 163.40,620.20 183.10,620.20 163.90,639.20" fill="#545454"/>
<polygon points="144.20,639.20 163.90,639.20 163.90,666.20 144.20,666.20" fill="#545454"/>
<polygon points="144.20,666.20 144.20,639.20 163.40,620.20 183.10,620.20 183.10,647.20 163.90,666.20" fill="none" stroke="#000" stroke-width="3.2" stroke-linejoin="miter"/>
<line x1="144.20" y1="639.20" x2="163.90" y2="639.20" stroke="#000" stroke-width="3.2" stroke-linecap="butt"/>
<line x1="163.90" y1="639.20" x2="163.90" y2="666.20" stroke="#000" stroke-width="3.2" stroke-linecap="butt"/>
<line x1="163.90" y1="639.20" x2="183.10" y2="620.20" stroke="#000" stroke-width="3.2" stroke-linecap="butt"/>
<line x1="227.80" y1="519.20" x2="227.80" y2="570.50" stroke="#000" stroke-width="2.9" stroke-linecap="butt"/>
<line x1="221.50" y1="519.20" x2="234.10" y2="519.20" stroke="#000" stroke-width="2.7" stroke-linecap="butt"/>
<polygon points="228.40,589.00 247.60,570.00 247.60,647.20 228.40,666.20" fill="#fff"/>
<polygon points="209.00,589.00 228.20,570.00 247.60,570.00 228.40,589.00" fill="#fff"/>
<polygon points="209.00,589.00 228.40,589.00 228.40,666.20 209.00,666.20" fill="#fff"/>
<polygon points="209.00,666.20 209.00,589.00 228.20,570.00 247.60,570.00 247.60,647.20 228.40,666.20" fill="none" stroke="#000" stroke-width="3.2" stroke-linejoin="miter"/>
<line x1="209.00" y1="589.00" x2="228.40" y2="589.00" stroke="#000" stroke-width="3.2" stroke-linecap="butt"/>
<line x1="228.40" y1="589.00" x2="228.40" y2="666.20" stroke="#000" stroke-width="3.2" stroke-linecap="butt"/>
<line x1="228.40" y1="589.00" x2="247.60" y2="570.00" stroke="#000" stroke-width="3.2" stroke-linecap="butt"/>
<rect x="220.80" y="582.50" width="2.4" height="2.4" fill="#000"/>
<rect x="220.80" y="601.80" width="2.4" height="2.4" fill="#000"/>
<rect x="220.80" y="619.50" width="2.4" height="2.4" fill="#000"/>
<rect x="220.80" y="638.80" width="2.4" height="2.4" fill="#000"/>
<rect x="220.80" y="658.20" width="2.4" height="2.4" fill="#000"/>
<polygon points="248.00,518.60 267.20,499.60 267.20,647.20 248.00,666.20" fill="url(#stip)"/>
<polygon points="228.40,518.60 247.60,499.60 267.20,499.60 248.00,518.60" fill="url(#stip)"/>
<polygon points="228.40,518.60 248.00,518.60 248.00,666.20 228.40,666.20" fill="url(#stip)"/>
<polygon points="228.40,666.20 228.40,518.60 247.60,499.60 267.20,499.60 267.20,647.20 248.00,666.20" fill="none" stroke="#000" stroke-width="3.2" stroke-linejoin="miter"/>
<line x1="228.40" y1="518.60" x2="248.00" y2="518.60" stroke="#000" stroke-width="3.2" stroke-linecap="butt"/>
<line x1="248.00" y1="518.60" x2="248.00" y2="666.20" stroke="#000" stroke-width="3.2" stroke-linecap="butt"/>
<line x1="248.00" y1="518.60" x2="267.20" y2="499.60" stroke="#000" stroke-width="3.2" stroke-linecap="butt"/>
<line x1="247.20" y1="452.60" x2="247.20" y2="510.10" stroke="#000" stroke-width="2.9" stroke-linecap="butt"/>
<line x1="240.90" y1="452.60" x2="253.50" y2="452.60" stroke="#000" stroke-width="2.7" stroke-linecap="butt"/>
<line x1="267.20" y1="489.60" x2="267.20" y2="550.80" stroke="#000" stroke-width="2.9" stroke-linecap="butt"/>
<line x1="260.90" y1="489.60" x2="273.50" y2="489.60" stroke="#000" stroke-width="2.7" stroke-linecap="butt"/>
<polygon points="266.90,568.20 285.90,550.30 285.90,648.30 266.90,666.20" fill="#545454"/>
<polygon points="248.00,568.20 267.00,550.30 285.90,550.30 266.90,568.20" fill="#545454"/>
<polygon points="248.00,568.20 266.90,568.20 266.90,666.20 248.00,666.20" fill="#545454"/>
<polygon points="248.00,666.20 248.00,568.20 267.00,550.30 285.90,550.30 285.90,648.30 266.90,666.20" fill="none" stroke="#000" stroke-width="3.2" stroke-linejoin="miter"/>
<line x1="248.00" y1="568.20" x2="266.90" y2="568.20" stroke="#000" stroke-width="3.2" stroke-linecap="butt"/>
<line x1="266.90" y1="568.20" x2="266.90" y2="666.20" stroke="#000" stroke-width="3.2" stroke-linecap="butt"/>
<line x1="266.90" y1="568.20" x2="285.90" y2="550.30" stroke="#000" stroke-width="3.2" stroke-linecap="butt"/>
<text transform="translate(68.4,32.20) scale(1,1.08)" font-size="23.8" text-anchor="end" stroke="#000" stroke-width="0.35">100</text>
<text transform="translate(68.4,86.90) scale(1,1.08)" font-size="23.8" text-anchor="end" stroke="#000" stroke-width="0.35">75</text>
<text transform="translate(68.4,138.80) scale(1,1.08)" font-size="23.8" text-anchor="end" stroke="#000" stroke-width="0.35">50</text>
<text transform="translate(68.4,193.00) scale(1,1.08)" font-size="23.8" text-anchor="end" stroke="#000" stroke-width="0.35">25</text>
<text transform="translate(68.4,300.60) scale(1,1.08)" font-size="23.8" text-anchor="end" stroke="#000" stroke-width="0.35">75</text>
<text transform="translate(68.4,352.50) scale(1,1.08)" font-size="23.8" text-anchor="end" stroke="#000" stroke-width="0.35">50</text>
<text transform="translate(68.4,407.00) scale(1,1.08)" font-size="23.8" text-anchor="end" stroke="#000" stroke-width="0.35">25</text>
<text transform="translate(68.4,514.90) scale(1,1.08)" font-size="23.8" text-anchor="end" stroke="#000" stroke-width="0.35">75</text>
<text transform="translate(68.4,566.50) scale(1,1.08)" font-size="23.8" text-anchor="end" stroke="#000" stroke-width="0.35">50</text>
<text transform="translate(68.4,620.60) scale(1,1.08)" font-size="23.8" text-anchor="end" stroke="#000" stroke-width="0.35">25</text>
<text transform="translate(68.4,674.40) scale(1,1.08)" font-size="23.8" text-anchor="end" stroke="#000" stroke-width="0.35">0</text>
<text x="162.5" y="36.0" font-size="29.5" text-anchor="start" font-weight="normal" stroke="#000" stroke-width="0.3" >CD4</text>
<text x="360.9" y="36.0" font-size="29.5" text-anchor="start" font-weight="normal" stroke="#000" stroke-width="0.3" >CD14</text>
<text x="155.0" y="269.8" font-size="29.5" text-anchor="start" font-weight="normal" stroke="#000" stroke-width="0.3" >CD20</text>
<text x="368.6" y="270.2" font-size="29.5" text-anchor="start" font-weight="normal" stroke="#000" stroke-width="0.3" >CD56</text>
<text x="162.5" y="482.6" font-size="29.5" text-anchor="start" font-weight="normal" stroke="#000" stroke-width="0.3" >CD8</text>
<text x="117.8" y="691.5" font-size="24" text-anchor="start" font-weight="normal" stroke="#000" stroke-width="0.3" >HD</text>
<text x="214.8" y="691.5" font-size="24" text-anchor="start" font-weight="normal" stroke="#000" stroke-width="0.3" >HHP</text>
<text x="322.6" y="479.2" font-size="24" text-anchor="start" font-weight="normal" stroke="#000" stroke-width="0.3" >HD</text>
<text x="418.6" y="479.2" font-size="24.4" text-anchor="start" font-weight="normal" stroke="#000" stroke-width="0.3" >HHP</text>
<text x="0" y="0" font-size="29.6" text-anchor="middle" font-weight="normal" stroke="#000" stroke-width="0.4" transform="translate(23.5,348.5) rotate(-90)">Percentage of positive cells</text>
<text x="223.6" y="95.4" font-size="20.5" text-anchor="start" font-weight="bold" >a</text>
<text x="242.9" y="95.4" font-size="20.5" text-anchor="start" font-weight="bold" >a</text>
<text x="270.4" y="145.6" font-size="20.5" text-anchor="start" font-weight="bold" >b</text>
<text x="467.6" y="27.9" font-size="20.5" text-anchor="start" font-weight="bold" >c</text>
<text x="435.2" y="101.3" font-size="20.5" text-anchor="start" font-weight="bold" >b</text>
<text x="427.8" y="135.4" font-size="20.5" text-anchor="start" font-weight="bold" >a</text>
<text x="263.4" y="328.6" font-size="20.5" text-anchor="start" font-weight="bold" >c</text>
<text x="242.3" y="296.5" font-size="20.5" text-anchor="start" font-weight="bold" >c</text>
<text x="211.5" y="386.3" font-size="20.5" text-anchor="start" font-weight="bold" >b</text>
<text x="234.0" y="478.0" font-size="20.5" text-anchor="start" font-weight="bold" >c</text>
<text x="271.3" y="532.5" font-size="20.5" text-anchor="start" font-weight="bold" >d</text>
<text x="212.9" y="548.3" font-size="20.5" text-anchor="start" font-weight="bold" >c</text>
<polygon points="375.50,514.00 382.50,507.20 382.50,533.20 375.50,540.00" fill="#fff"/>
<polygon points="349.70,514.00 356.70,507.20 382.50,507.20 375.50,514.00" fill="#fff"/>
<polygon points="349.70,514.00 375.50,514.00 375.50,540.00 349.70,540.00" fill="#fff"/>
<polygon points="349.70,540.00 349.70,514.00 356.70,507.20 382.50,507.20 382.50,533.20 375.50,540.00" fill="none" stroke="#000" stroke-width="3.0" stroke-linejoin="round"/>
<polyline points="349.70,514.00 375.50,514.00 382.50,507.20" fill="none" stroke="#000" stroke-width="3.0" stroke-linejoin="round"/>
<line x1="375.50" y1="514.00" x2="375.50" y2="540.00" stroke="#000" stroke-width="3.0" stroke-linecap="butt"/>
<rect x="352.00" y="525.40" width="2.6" height="2.2" fill="#000"/>
<rect x="370.50" y="525.40" width="2.6" height="2.2" fill="#000"/>
<polygon points="376.00,568.10 383.00,561.30 383.00,587.30 376.00,594.10" fill="url(#stip)"/>
<polygon points="350.20,568.10 357.20,561.30 383.00,561.30 376.00,568.10" fill="url(#stip)"/>
<polygon points="350.20,568.10 376.00,568.10 376.00,594.10 350.20,594.10" fill="url(#stip)"/>
<polygon points="350.20,594.10 350.20,568.10 357.20,561.30 383.00,561.30 383.00,587.30 376.00,594.10" fill="none" stroke="#000" stroke-width="3.0" stroke-linejoin="round"/>
<polyline points="350.20,568.10 376.00,568.10 383.00,561.30" fill="none" stroke="#000" stroke-width="3.0" stroke-linejoin="round"/>
<line x1="376.00" y1="568.10" x2="376.00" y2="594.10" stroke="#000" stroke-width="3.0" stroke-linecap="butt"/>
<polygon points="376.80,621.70 383.80,614.90 383.80,640.90 376.80,647.70" fill="#545454"/>
<polygon points="351.00,621.70 358.00,614.90 383.80,614.90 376.80,621.70" fill="#545454"/>
<polygon points="351.00,621.70 376.80,621.70 376.80,647.70 351.00,647.70" fill="#545454"/>
<polygon points="351.00,647.70 351.00,621.70 358.00,614.90 383.80,614.90 383.80,640.90 376.80,647.70" fill="none" stroke="#000" stroke-width="3.0" stroke-linejoin="round"/>
<polyline points="351.00,621.70 376.80,621.70 383.80,614.90" fill="none" stroke="#000" stroke-width="3.0" stroke-linejoin="round"/>
<line x1="376.80" y1="621.70" x2="376.80" y2="647.70" stroke="#000" stroke-width="3.0" stroke-linecap="butt"/>
<g fill="none" stroke="#000" stroke-linecap="round" stroke-linejoin="round">
<ellipse cx="404.6" cy="523.4" rx="5.2" ry="6.8" stroke-width="2.0"/>
<path d="M401.0,518.6 C399.6,520.6 399.6,526.4 401.0,528.4" stroke-width="2.8"/>
<path d="M414.7,516.9 L409.9,525.6" stroke-width="3.2"/>
<path d="M409.9,525.6 C410.4,529.4 411.4,530.9 412.9,530.7 C414.0,530.6 415.0,529.6 415.8,528.3" stroke-width="2.3"/>
<path d="M403.0,590.6 L403.0,569.0 C403.0,565.2 404.9,563.7 407.4,563.7 C410.3,563.7 412.1,565.4 412.1,567.9 C412.1,570.4 410.3,571.8 406.4,571.8" stroke-width="2.2"/>
<path d="M403.0,590.6 L403.0,572" stroke-width="3.4"/>
<path d="M406.4,571.8 C411.6,571.8 413.8,574.6 413.8,578.0 C413.8,581.8 411.4,584.2 407.8,584.2 C405.9,584.2 404.4,583.6 403.4,582.6" stroke-width="2.7"/>
<path d="M402.6,628.6 C403.1,626.0 404.4,624.9 405.9,624.9 C408.2,624.9 409.4,627.8 410.1,632.2 L410.5,636.0" stroke-width="2.2"/>
<path d="M416.3,624.6 L410.2,636.4" stroke-width="3.1"/>
<path d="M410.2,636.4 C409.2,638.8 408.8,641.6 409.2,643.4 C409.6,645.0 410.6,645.0 410.9,643.4 C411.2,641.6 410.9,639.0 410.3,636.6" stroke-width="2.6"/>
</g>
</svg>
</body></html>
